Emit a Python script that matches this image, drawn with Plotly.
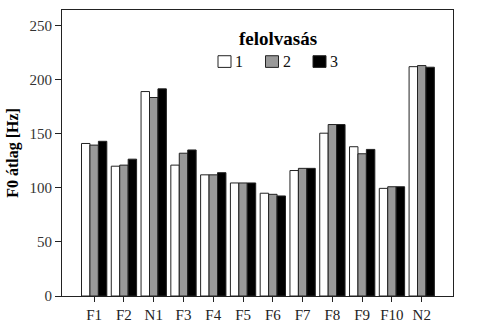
import plotly.graph_objects as go

# Mean F0 per speaker for each of the three readings
speakers = ["F1", "F2", "N1", "F3", "F4", "F5", "F6", "F7", "F8", "F9", "F10", "N2"]
reading_1 = [141, 120, 189, 121, 112, 104.5, 95, 116, 150.5, 138, 99.5, 212]
reading_2 = [139.5, 121, 183.5, 132, 112, 104.5, 94, 118, 158.5, 131.5, 101, 213]
reading_3 = [143, 126.5, 191.5, 135, 114, 104.5, 92.5, 118, 158.5, 135.5, 101, 211.5]

series_names = ["1", "2", "3"]
series_colors = ["#ffffff", "#999999", "#000000"]
y_ticks = [0, 50, 100, 150, 200, 250]

SERIF = "Liberation Serif, Times New Roman, serif"

# plot area in pixels, used to place the hand-built legend
L, R, T, B = 62, 453, 9, 303
W, H = R - L, B - T


def px_x(x):
    return (x - L) / W


def px_y(y):
    return (B - y) / H


fig = go.Figure()
for name, vals, col in zip(series_names, [reading_1, reading_2, reading_3], series_colors):
    fig.add_trace(go.Bar(
        x=list(range(len(speakers))), y=vals, name=name,
        marker=dict(color=col, line=dict(color="#222222", width=1)),
        showlegend=False,
    ))

# Legend: title "felolvasás" over three swatches
legend_x0 = 218
legend_step = 47.5
fig.add_annotation(xref="paper", yref="paper", x=px_x(278), y=px_y(38),
                   text="<b>felolvasás</b>", showarrow=False,
                   xanchor="center", yanchor="middle",
                   font=dict(family=SERIF, size=19, color="#000000"))
for i, (name, col) in enumerate(zip(series_names, series_colors)):
    x0 = legend_x0 + i * legend_step
    fig.add_shape(type="rect", xref="paper", yref="paper",
                  x0=px_x(x0), x1=px_x(x0 + 13),
                  y0=px_y(68), y1=px_y(56),
                  fillcolor=col, line=dict(color="#222222", width=1))
    fig.add_annotation(xref="paper", yref="paper", x=px_x(x0 + 15), y=px_y(62),
                       text=name, showarrow=False, xanchor="left", yanchor="middle",
                       font=dict(family=SERIF, size=16, color="#111111"))

fig.update_layout(
    width=497, height=332,
    margin=dict(l=L, r=497 - R, t=T, b=332 - B),
    paper_bgcolor="white", plot_bgcolor="white",
    barmode="group", bargap=0.15, bargroupgap=0,
    font=dict(family=SERIF, size=14, color="#222222"),
    xaxis=dict(
        tickmode="array", tickvals=list(range(len(speakers))), ticktext=speakers,
        range=[-1.08, 12.05], showgrid=False, zeroline=False,
        showline=True, linecolor="#222222", linewidth=1, mirror=True,
        ticks="outside", ticklen=5, tickcolor="#222222",
        tickfont=dict(family=SERIF, size=15, color="#222222"),
    ),
    yaxis=dict(
        range=[0, 250 * H / 278], tickvals=y_ticks, showgrid=False, zeroline=False,
        showline=True, linecolor="#222222", linewidth=1, mirror=True,
        ticks="outside", ticklen=6, tickcolor="#222222",
        tickfont=dict(family=SERIF, size=15, color="#333333"),
        title=dict(text="<b>F0 átlag [Hz]</b>", font=dict(family=SERIF, size=16, color="#000000"),
                   standoff=6),
    ),
)

fig.write_html("out.html")
